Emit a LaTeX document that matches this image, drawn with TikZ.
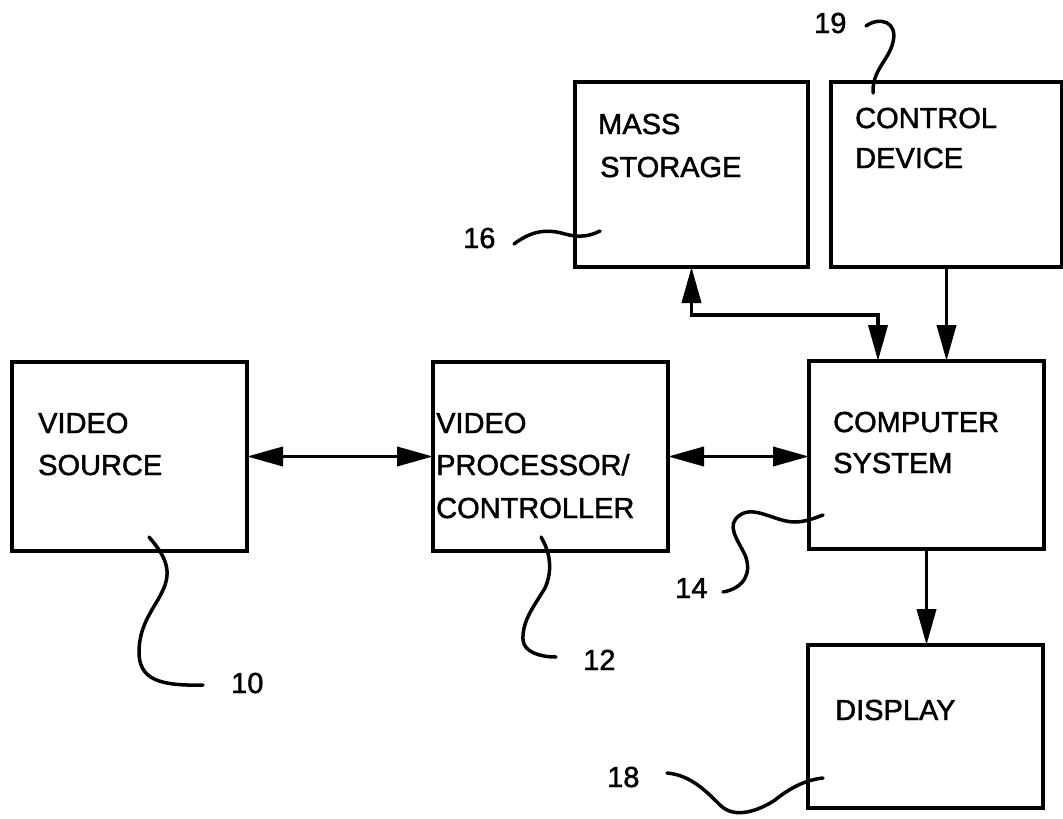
\documentclass[tikz,border=0pt]{standalone}
\usepackage{fontspec}
\setmainfont{Liberation Sans}
\usetikzlibrary{arrows.meta}
\begin{document}
\begin{tikzpicture}[x=1pt,y=-1pt,
  box/.style={draw,line width=3.8pt,rectangle,inner sep=0pt,outer sep=0pt,anchor=north west},
  lbl/.style={anchor=base west,inner sep=0pt,font=\fontsize{29}{34}\selectfont\addfontfeature{FakeBold=1.6}},
  arr/.style={line width=3.8pt,-{Triangle[length=36pt,width=19pt]}},
  dbl/.style={line width=3.8pt,{Triangle[length=36pt,width=19pt]}-{Triangle[length=36pt,width=19pt]}},
  leader/.style={line width=3.5pt,line cap=round}]
\useasboundingbox (0,0) rectangle (1063,819);
\fill[white] (0,0) rectangle (1063,819);

% boxes
\node[box,minimum width=235pt,minimum height=189pt] (vs) at (12,362) {};
\node[box,minimum width=235pt,minimum height=189pt] (vp) at (433,362) {};
\node[box,minimum width=235pt,minimum height=188pt] (cs) at (809,361) {};
\node[box,minimum width=233pt,minimum height=185pt] (ms) at (575,82) {};
\node[box,minimum width=231pt,minimum height=185pt] (cd) at (831,82) {};
\node[box,minimum width=235pt,minimum height=163pt] (disp) at (808,645) {};

% box texts
\node[lbl] (vs1) at (38,433) {VIDEO};
\node[lbl] (vs2) at (38,475) {SOURCE};
\node[lbl] (vp1) at (436,433) {VIDEO};
\node[lbl] (vp2) at (436,475) {PROCESSOR/};
\node[lbl] (vp3) at (436,518) {CONTROLLER};
\node[lbl] (cs1) at (833,432) {COMPUTER};
\node[lbl] (cs2) at (833,473) {SYSTEM};
\node[lbl] (ms1) at (598,134) {MASS};
\node[lbl] (ms2) at (600,177) {STORAGE};
\node[lbl] (cd1) at (855,128) {CONTROL};
\node[lbl] (cd2) at (855,168) {DEVICE};
\node[lbl] (dp1) at (835,720) {DISPLAY};

% connectors
\draw[dbl] (vs.east) -- (vs.east -| vp.west);
\draw[dbl] (vp.east) -- (vp.east -| cs.west);
\coordinate (j1) at (878,315);
\draw[dbl,line join=miter] (ms.south) |- (j1) -- (j1 |- cs.north);
\draw[arr] (cd.south) -- (cd.south |- cs.north);
\draw[arr] (cs.south) -- (cs.south |- disp.north);

% reference numerals
\node[lbl] (n19) at (814,33) {19};
\node[lbl] (n16) at (463,248) {16};
\node[lbl] (n10) at (231,693) {10};
\node[lbl] (n12) at (583,670) {12};
\node[lbl] (n14) at (675,598) {14};
\node[lbl] (n18) at (607,787) {18};

% leaders
\coordinate (e19) at (873,93);
\coordinate (e16) at (600,231);
\coordinate (e10) at (149,537);
\coordinate (e12) at (541,537);
\coordinate (e14) at (823,515);
\coordinate (e18) at (823,778);
\draw[leader] (866,26) .. controls (880,16) and (898,22) .. (893,42) .. controls (889,60) and (872,70) .. (e19);
\draw[leader] (514,244) .. controls (530,232) and (545,228) .. (565,234) .. controls (580,238) and (590,236) .. (e16);
\draw[leader] (203,685) .. controls (160,686) and (138,680) .. (139,650) .. controls (140,620) and (158,605) .. (165,585) .. controls (172,565) and (160,550) .. (e10);
\draw[leader] (556,657) .. controls (540,657) and (524,652) .. (523,640) .. controls (522,620) and (535,605) .. (545,588) .. controls (553,570) and (550,552) .. (e12);
\draw[leader] (723,592) .. controls (745,588) and (752,572) .. (745,555) .. controls (738,540) and (725,525) .. (740,515) .. controls (755,505) and (775,522) .. (795,522) .. controls (805,522) and (815,518) .. (e14);
\draw[leader] (667,773) .. controls (690,775) and (705,790) .. (720,805) .. controls (735,820) and (760,810) .. (775,800) .. controls (790,788) and (805,780) .. (e18);
\end{tikzpicture}
\end{document}
